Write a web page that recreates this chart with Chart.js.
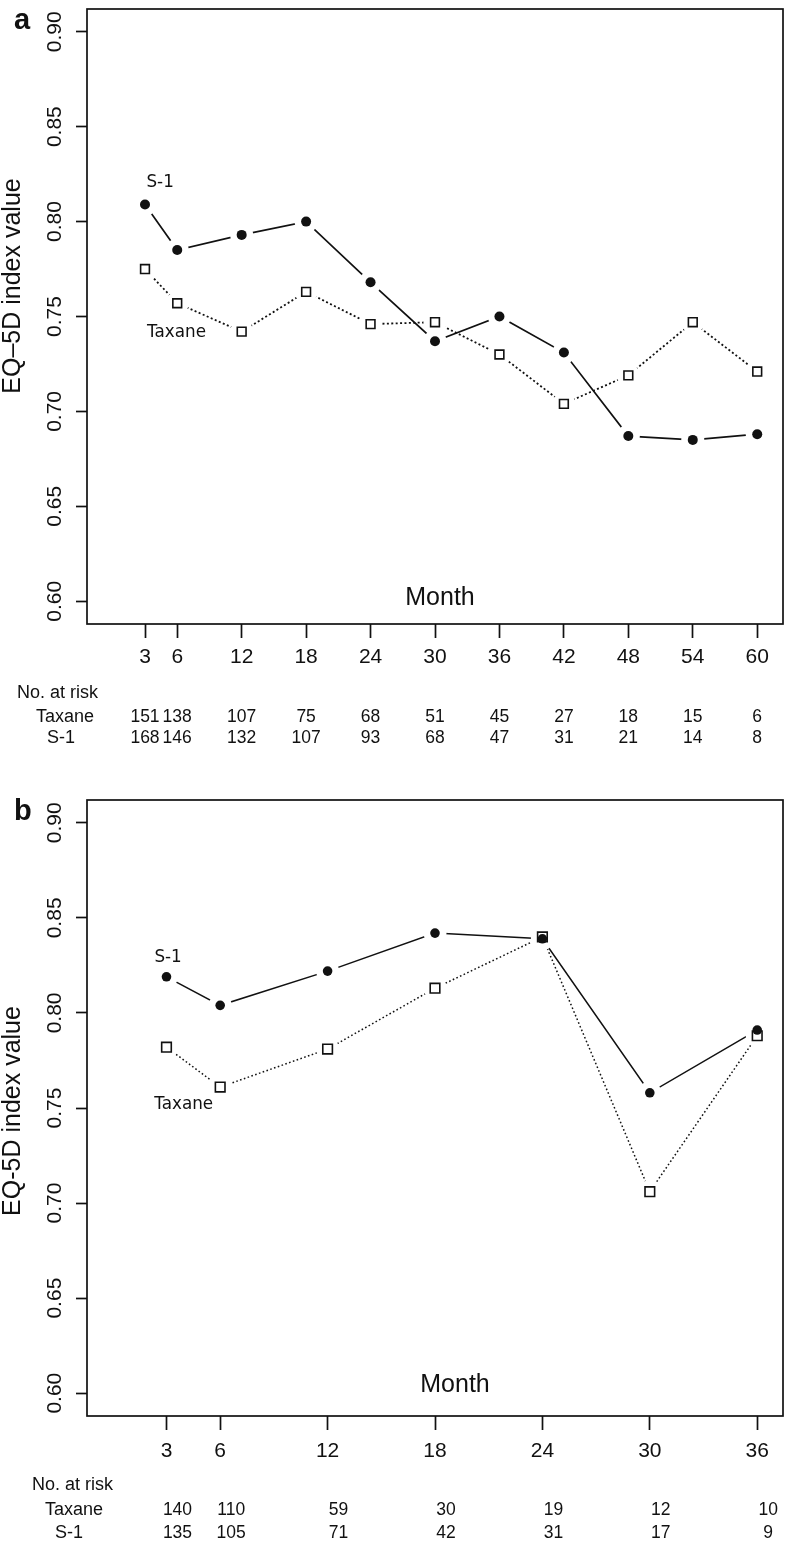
<!DOCTYPE html>
<html>
<head>
<meta charset="utf-8">
<title>EQ-5D index value by month</title>
<script src="https://cdn.jsdelivr.net/npm/chart.js@4.4.1/dist/chart.umd.min.js"></script>
<style>
  html, body { margin: 0; padding: 0; background: #fff; }
  body { width: 786px; height: 1545px; position: relative; overflow: hidden; }
  .panel { position: absolute; left: 0; width: 786px; }
  #panel-a { top: 0; height: 760px; }
  #panel-b { top: 791px; height: 754px; }
  canvas { display: block; }
</style>
</head>
<body>
<div class="panel" id="panel-a"><canvas id="chart-a" width="786" height="760"></canvas></div>
<div class="panel" id="panel-b"><canvas id="chart-b" width="786" height="754"></canvas></div>
<script>
// EQ-5D index value over follow-up, S-1 vs taxane — panel a (60 months), panel b (36 months)
;(function () {
  const INK = '#111'
  const SANS = '"Liberation Sans", Arial, Helvetica, sans-serif'
  const TAG_FONT = '"DejaVu Sans", Verdana, sans-serif'

  // panel a
  const monthsA = [3, 6, 12, 18, 24, 30, 36, 42, 48, 54, 60]
  const s1A = [0.809, 0.785, 0.793, 0.800, 0.768, 0.737, 0.750, 0.731, 0.687, 0.685, 0.688]
  const taxaneA = [0.775, 0.757, 0.742, 0.763, 0.746, 0.747, 0.730, 0.704, 0.719, 0.747, 0.721]
  const riskTaxaneA = [151, 138, 107, 75, 68, 51, 45, 27, 18, 15, 6]
  const riskS1A = [168, 146, 132, 107, 93, 68, 47, 31, 21, 14, 8]

  // panel b
  const monthsB = [3, 6, 12, 18, 24, 30, 36]
  const s1B = [0.819, 0.804, 0.822, 0.842, 0.839, 0.758, 0.791]
  const taxaneB = [0.782, 0.761, 0.781, 0.813, 0.840, 0.706, 0.788]
  const riskTaxaneB = [140, 110, 59, 30, 19, 12, 10]
  const riskS1B = [135, 105, 71, 42, 31, 17, 9]

  const yTicks = [0.60, 0.65, 0.70, 0.75, 0.80, 0.85, 0.90]

  function pairs (months, values) {
    return months.map((m, i) => ({ x: m, y: values[i] }))
  }

  // box, panel letter, titles, series tags and the at-risk table
  function makeDecor (p) {
    return {
      id: 'decor',
      afterDraw (chart) {
        const { ctx, chartArea: a, scales: { x, y } } = chart
        ctx.save()
        ctx.strokeStyle = INK
        ctx.lineWidth = 1.7
        ctx.strokeRect(a.left, a.top, a.right - a.left, a.bottom - a.top)

        ctx.fillStyle = INK
        ctx.textBaseline = 'alphabetic'
        ctx.textAlign = 'left'
        ctx.font = `bold 29px ${SANS}`
        ctx.fillText(p.letter, 14, 29)

        ctx.textBaseline = 'middle'
        ctx.textAlign = 'center'
        ctx.font = `25px ${SANS}`
        ctx.save()
        ctx.translate(13, p.titleY)
        ctx.rotate(-Math.PI / 2)
        ctx.fillText(p.yTitle, 0, 0)
        ctx.restore()
        ctx.fillText('Month', p.monthX, p.monthY)

        ctx.font = `16.8px ${TAG_FONT}`
        p.tags.forEach(t => ctx.fillText(t.text, x.getPixelForValue(t.month), y.getPixelForValue(t.value)))

        ctx.font = `18px ${SANS}`
        ctx.textAlign = 'left'
        ctx.fillText('No. at risk', p.riskLeft, p.riskTitleY)
        ctx.textAlign = 'center'
        p.riskRows.forEach(row => {
          ctx.font = `18px ${SANS}`
          ctx.fillText(row.name, row.nameX, row.y)
          ctx.font = `17.5px ${SANS}`
          row.counts.forEach((n, i) => {
            ctx.fillText(String(n), x.getPixelForValue(p.months[i]) + p.riskShift, row.y)
          })
        })
        ctx.restore()
      }
    }
  }

  function makeChart (canvasId, p) {
    const canvas = document.getElementById(canvasId)
    const bottomGap = canvas.height - p.areaBottom
    return new Chart(canvas, {
      type: 'scatter',
      data: {
        datasets: [
          { data: pairs(p.months, p.taxane), showLine: true, pointRadius: 0, borderColor: INK,
            borderWidth: p.dotWidth, borderDash: p.dash, order: 5 },
          { data: pairs(p.months, p.s1), showLine: true, pointRadius: 0, borderColor: INK,
            borderWidth: p.lineWidth, order: 5 },
          // white discs leave the gaps round each point
          { data: pairs(p.months, p.taxane), pointRadius: 11.5, pointBackgroundColor: '#fff',
            pointBorderWidth: 0, order: 4 },
          { data: pairs(p.months, p.s1), pointRadius: 11.5, pointBackgroundColor: '#fff',
            pointBorderWidth: 0, order: 4 },
          { label: 'Taxane', data: pairs(p.months, p.taxane), pointStyle: 'rect', pointRadius: p.squareR,
            pointBackgroundColor: '#fff', pointBorderColor: INK, pointBorderWidth: 1.6, order: 2 },
          { label: 'S-1', data: pairs(p.months, p.s1), pointStyle: 'circle', pointRadius: p.dotR,
            pointBackgroundColor: INK, pointBorderWidth: 0, order: 1 }
        ]
      },
      options: {
        responsive: false,
        animation: false,
        events: [],
        layout: { autoPadding: false, padding: { top: 9, right: 3, left: 0, bottom: 0 } },
        plugins: { legend: { display: false }, tooltip: { enabled: false } },
        scales: {
          x: {
            type: 'linear',
            min: p.xMin,
            max: p.xMax,
            afterBuildTicks: s => { s.ticks = p.months.map(v => ({ value: v })) },
            afterFit: s => { s.height = bottomGap; s.paddingLeft = 0; s.paddingRight = 0 },
            border: { display: false },
            grid: { drawOnChartArea: false, tickLength: 14, tickColor: INK, tickWidth: 1.7 },
            ticks: {
              autoSkip: false, maxRotation: 0, color: INK, padding: p.xPad,
              font: { family: SANS, size: 21 }, callback: v => String(v)
            }
          },
          y: {
            type: 'linear',
            min: 0.588,
            max: 0.912,
            afterBuildTicks: s => { s.ticks = yTicks.map(v => ({ value: v })) },
            afterFit: s => { s.width = 87; s.paddingTop = 0; s.paddingBottom = 0 },
            border: { display: false },
            grid: { drawOnChartArea: false, tickLength: 11, tickColor: INK, tickWidth: 1.7 },
            ticks: {
              autoSkip: false, minRotation: 90, maxRotation: 90, crossAlign: 'center', padding: 0,
              color: INK, font: { family: SANS, size: 21 }, callback: v => v.toFixed(2)
            }
          }
        }
      },
      plugins: [makeDecor(p)]
    })
  }

  makeChart('chart-a', {
    letter: 'a', yTitle: 'EQ\u20135D index value', titleY: 286,
    months: monthsA, s1: s1A, taxane: taxaneA,
    xMin: -2.4, xMax: 62.4, areaBottom: 624, xPad: 6.4,
    lineWidth: 1.7, dotWidth: 1.8, dash: [2, 2.4], dotR: 5, squareR: 6.2,
    monthX: 440, monthY: 598,
    tags: [{ text: 'S-1', month: 4.41, value: 0.8204 }, { text: 'Taxane', month: 5.94, value: 0.7414 }],
    riskLeft: 17, riskTitleY: 693, riskShift: 0,
    riskRows: [
      { name: 'Taxane', nameX: 65, y: 717, counts: riskTaxaneA },
      { name: 'S-1', nameX: 61, y: 738, counts: riskS1A }
    ]
  })

  makeChart('chart-b', {
    letter: 'b', yTitle: 'EQ-5D index value', titleY: 320,
    months: monthsB, s1: s1B, taxane: taxaneB,
    xMin: -1.44, xMax: 37.44, areaBottom: 625, xPad: 8.4,
    lineWidth: 1.5, dotWidth: 1.5, dash: [1.6, 2.4], dotR: 4.8, squareR: 6.8,
    monthX: 455, monthY: 594,
    tags: [{ text: 'S-1', month: 3.09, value: 0.829 }, { text: 'Taxane', month: 3.96, value: 0.7517 }],
    riskLeft: 32, riskTitleY: 694, riskShift: 11,
    riskRows: [
      { name: 'Taxane', nameX: 74, y: 719, counts: riskTaxaneB },
      { name: 'S-1', nameX: 69, y: 741.7, counts: riskS1B }
    ]
  })
})()
</script>
</body>
</html>
